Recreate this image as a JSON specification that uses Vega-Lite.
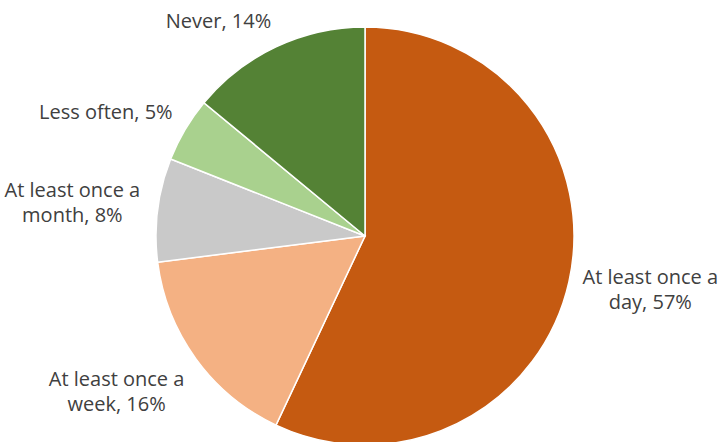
{
  "$schema": "https://vega.github.io/schema/vega-lite/v6.json",
  "width": 706,
  "height": 412,
  "autosize": "none",
  "padding": {"left": 12, "top": 30, "right": 0, "bottom": 0},
  "background": "white",
  "config": {"view": {"stroke": null}},
  "data": {
    "values": [
      {"order": 1, "category": "At least once a day", "label": "At least once a\nday, 57%", "value": 57},
      {"order": 2, "category": "At least once a week", "label": "At least once a\nweek, 16%", "value": 16},
      {"order": 3, "category": "At least once a month", "label": "At least once a\nmonth, 8%", "value": 8},
      {"order": 4, "category": "Less often", "label": "Less often, 5%", "value": 5},
      {"order": 5, "category": "Never", "label": "Never, 14%", "value": 14}
    ]
  },
  "encoding": {
    "theta": {"field": "value", "type": "quantitative", "stack": true},
    "order": {"field": "order", "type": "quantitative"}
  },
  "layer": [
    {
      "mark": {"type": "arc", "outerRadius": 209, "stroke": "white", "strokeWidth": 1.5},
      "encoding": {
        "color": {
          "field": "category",
          "type": "nominal",
          "scale": {
            "domain": ["At least once a day", "At least once a week", "At least once a month", "Less often", "Never"],
            "range": ["#C55A11", "#F4B183", "#C9C9C9", "#A9D18E", "#548235"]
          },
          "legend": null
        }
      }
    },
    {
      "mark": {"type": "text", "radius": 278, "align": "center", "baseline": "middle", "lineBreak": "\n", "lineHeight": 25, "font": "Open Sans", "fontSize": 20, "color": "#404040", "dx": 14, "dy": -19},
      "encoding": {"text": {"condition": {"test": "datum.order == 1", "field": "label"}, "value": ""}}
    },
    {
      "mark": {"type": "text", "radius": 291, "align": "center", "baseline": "middle", "lineBreak": "\n", "lineHeight": 25, "font": "Open Sans", "fontSize": 20, "color": "#404040", "dx": -13, "dy": -27},
      "encoding": {"text": {"condition": {"test": "datum.order == 2", "field": "label"}, "value": ""}}
    },
    {
      "mark": {"type": "text", "radius": 300, "align": "center", "baseline": "middle", "lineBreak": "\n", "lineHeight": 25, "font": "Open Sans", "fontSize": 20, "color": "#404040", "dx": 5, "dy": -7},
      "encoding": {"text": {"condition": {"test": "datum.order == 3", "field": "label"}, "value": ""}}
    },
    {
      "mark": {"type": "text", "radius": 286, "align": "center", "baseline": "middle", "font": "Open Sans", "fontSize": 20, "color": "#404040", "dx": -13, "dy": 23},
      "encoding": {"text": {"condition": {"test": "datum.order == 4", "field": "label"}, "value": ""}}
    },
    {
      "mark": {"type": "text", "radius": 236, "align": "center", "baseline": "middle", "font": "Open Sans", "fontSize": 20, "color": "#404040", "dx": -46},
      "encoding": {"text": {"condition": {"test": "datum.order == 5", "field": "label"}, "value": ""}}
    }
  ]
}
